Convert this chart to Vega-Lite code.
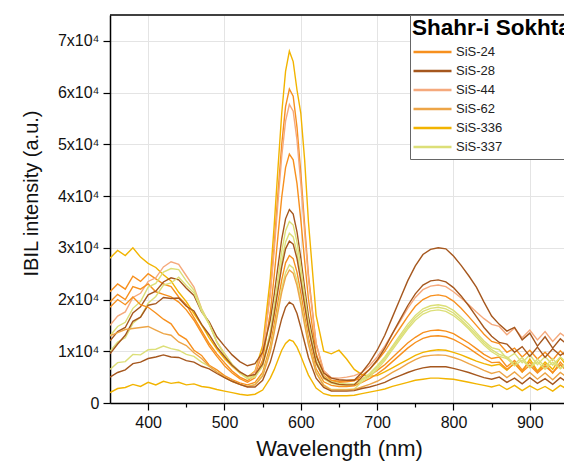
{
"$schema":"https://vega.github.io/schema/vega-lite/v6.json",
"width":454,"height":388,
"autosize":"none",
"padding":{"left":110,"top":15,"right":0,"bottom":65},
"config":{"font":"Liberation Sans","view":{"stroke":null}},
"datasets":{
"curves":[{"c":1,"s":"SiS-336"},{"c":2,"s":"SiS-24"},{"c":3,"s":"SiS-44"},{"c":4,"s":"SiS-24"},{"c":5,"s":"SiS-28"},{"c":6,"s":"SiS-337"},{"c":7,"s":"SiS-337"},{"c":8,"s":"SiS-28"},{"c":9,"s":"SiS-24"},{"c":10,"s":"SiS-337"},{"c":11,"s":"SiS-62"},{"c":12,"s":"SiS-28"},{"c":13,"s":"SiS-336"}],
"spectra":[
{"c":1,"w":350,"v":28000},{"c":1,"w":360,"v":29500},{"c":1,"w":370,"v":28500},{"c":1,"w":380,"v":30000},{"c":1,"w":390,"v":28200},{"c":1,"w":400,"v":27000},{"c":1,"w":410,"v":26200},{"c":1,"w":420,"v":24800},{"c":1,"w":430,"v":23600},{"c":1,"w":440,"v":21400},{"c":1,"w":450,"v":19600},{"c":1,"w":460,"v":17300},{"c":1,"w":470,"v":15100},{"c":1,"w":480,"v":12600},{"c":1,"w":490,"v":10400},{"c":1,"w":500,"v":8600},{"c":1,"w":510,"v":7100},{"c":1,"w":520,"v":5800},{"c":1,"w":530,"v":5000},{"c":1,"w":540,"v":6200},{"c":1,"w":550,"v":11100},{"c":1,"w":560,"v":24100},{"c":1,"w":565,"v":34100},{"c":1,"w":570,"v":45200},{"c":1,"w":575,"v":56000},{"c":1,"w":580,"v":64100},{"c":1,"w":585,"v":68000},{"c":1,"w":590,"v":66000},{"c":1,"w":595,"v":60500},{"c":1,"w":600,"v":56000},{"c":1,"w":605,"v":47000},{"c":1,"w":610,"v":35000},{"c":1,"w":620,"v":17000},{"c":1,"w":630,"v":10000},{"c":1,"w":640,"v":9500},{"c":1,"w":650,"v":10200},{"c":1,"w":660,"v":8500},{"c":1,"w":670,"v":6500},{"c":1,"w":680,"v":5500},{"c":1,"w":690,"v":5200},{"c":1,"w":700,"v":5300},{"c":1,"w":710,"v":6000},{"c":1,"w":720,"v":6800},{"c":1,"w":730,"v":7600},{"c":1,"w":740,"v":8400},{"c":1,"w":750,"v":9200},{"c":1,"w":760,"v":9800},{"c":1,"w":770,"v":10100},{"c":1,"w":780,"v":10300},{"c":1,"w":790,"v":10200},{"c":1,"w":800,"v":9800},{"c":1,"w":810,"v":9300},{"c":1,"w":820,"v":8700},{"c":1,"w":830,"v":8100},{"c":1,"w":840,"v":7600},{"c":1,"w":850,"v":7200},{"c":1,"w":860,"v":7500},{"c":1,"w":870,"v":6300},{"c":1,"w":880,"v":7800},{"c":1,"w":890,"v":6000},{"c":1,"w":900,"v":8500},{"c":1,"w":910,"v":6200},{"c":1,"w":920,"v":7900},{"c":1,"w":930,"v":6500},{"c":1,"w":940,"v":8800},{"c":1,"w":950,"v":6800},
{"c":2,"w":350,"v":21500},{"c":2,"w":360,"v":23000},{"c":2,"w":370,"v":22000},{"c":2,"w":380,"v":24500},{"c":2,"w":390,"v":23500},{"c":2,"w":400,"v":25000},{"c":2,"w":410,"v":24000},{"c":2,"w":420,"v":23000},{"c":2,"w":430,"v":22500},{"c":2,"w":440,"v":20500},{"c":2,"w":450,"v":19000},{"c":2,"w":460,"v":16500},{"c":2,"w":470,"v":14000},{"c":2,"w":480,"v":11500},{"c":2,"w":490,"v":9500},{"c":2,"w":500,"v":7800},{"c":2,"w":510,"v":6200},{"c":2,"w":520,"v":5000},{"c":2,"w":530,"v":4300},{"c":2,"w":540,"v":5400},{"c":2,"w":550,"v":9800},{"c":2,"w":560,"v":21500},{"c":2,"w":565,"v":30400},{"c":2,"w":570,"v":40400},{"c":2,"w":575,"v":50000},{"c":2,"w":580,"v":57300},{"c":2,"w":585,"v":60700},{"c":2,"w":590,"v":59300},{"c":2,"w":595,"v":53300},{"c":2,"w":600,"v":44400},{"c":2,"w":605,"v":34400},{"c":2,"w":610,"v":24800},{"c":2,"w":620,"v":11500},{"c":2,"w":630,"v":5900},{"c":2,"w":640,"v":4400},{"c":2,"w":650,"v":4200},{"c":2,"w":660,"v":4300},{"c":2,"w":670,"v":4500},{"c":2,"w":680,"v":4600},{"c":2,"w":690,"v":5300},{"c":2,"w":700,"v":6300},{"c":2,"w":710,"v":7400},{"c":2,"w":720,"v":8800},{"c":2,"w":730,"v":10200},{"c":2,"w":740,"v":11600},{"c":2,"w":750,"v":12700},{"c":2,"w":760,"v":13600},{"c":2,"w":770,"v":14000},{"c":2,"w":780,"v":14100},{"c":2,"w":790,"v":13900},{"c":2,"w":800,"v":13400},{"c":2,"w":810,"v":12500},{"c":2,"w":820,"v":11600},{"c":2,"w":830,"v":10500},{"c":2,"w":840,"v":9400},{"c":2,"w":850,"v":8600},{"c":2,"w":860,"v":8900},{"c":2,"w":870,"v":7000},{"c":2,"w":880,"v":8200},{"c":2,"w":890,"v":6400},{"c":2,"w":900,"v":7900},{"c":2,"w":910,"v":6000},{"c":2,"w":920,"v":7500},{"c":2,"w":930,"v":5800},{"c":2,"w":940,"v":7900},{"c":2,"w":950,"v":6200},
{"c":3,"w":350,"v":15000},{"c":3,"w":360,"v":16800},{"c":3,"w":370,"v":17600},{"c":3,"w":380,"v":20400},{"c":3,"w":390,"v":21200},{"c":3,"w":400,"v":23500},{"c":3,"w":410,"v":24200},{"c":3,"w":420,"v":26300},{"c":3,"w":430,"v":27300},{"c":3,"w":440,"v":26800},{"c":3,"w":450,"v":24600},{"c":3,"w":460,"v":22400},{"c":3,"w":470,"v":18200},{"c":3,"w":480,"v":15300},{"c":3,"w":490,"v":11800},{"c":3,"w":500,"v":9600},{"c":3,"w":510,"v":7400},{"c":3,"w":520,"v":6100},{"c":3,"w":530,"v":5000},{"c":3,"w":540,"v":6000},{"c":3,"w":550,"v":10100},{"c":3,"w":560,"v":20900},{"c":3,"w":565,"v":29300},{"c":3,"w":570,"v":38600},{"c":3,"w":575,"v":47700},{"c":3,"w":580,"v":54500},{"c":3,"w":585,"v":57700},{"c":3,"w":590,"v":56400},{"c":3,"w":595,"v":50800},{"c":3,"w":600,"v":42400},{"c":3,"w":605,"v":33000},{"c":3,"w":610,"v":24000},{"c":3,"w":620,"v":11500},{"c":3,"w":630,"v":6300},{"c":3,"w":640,"v":4900},{"c":3,"w":650,"v":4800},{"c":3,"w":660,"v":5000},{"c":3,"w":670,"v":5300},{"c":3,"w":680,"v":5900},{"c":3,"w":690,"v":7200},{"c":3,"w":700,"v":8900},{"c":3,"w":710,"v":11000},{"c":3,"w":720,"v":13400},{"c":3,"w":730,"v":15800},{"c":3,"w":740,"v":18300},{"c":3,"w":750,"v":20400},{"c":3,"w":760,"v":21900},{"c":3,"w":770,"v":22600},{"c":3,"w":780,"v":22800},{"c":3,"w":790,"v":22500},{"c":3,"w":800,"v":21500},{"c":3,"w":810,"v":20300},{"c":3,"w":820,"v":19000},{"c":3,"w":830,"v":17600},{"c":3,"w":840,"v":16300},{"c":3,"w":850,"v":15200},{"c":3,"w":860,"v":14800},{"c":3,"w":870,"v":13200},{"c":3,"w":880,"v":14500},{"c":3,"w":890,"v":12600},{"c":3,"w":900,"v":14100},{"c":3,"w":910,"v":12200},{"c":3,"w":920,"v":13800},{"c":3,"w":930,"v":11900},{"c":3,"w":940,"v":13500},{"c":3,"w":950,"v":12400},
{"c":4,"w":350,"v":19500},{"c":4,"w":360,"v":21000},{"c":4,"w":370,"v":20000},{"c":4,"w":380,"v":22500},{"c":4,"w":390,"v":22000},{"c":4,"w":400,"v":23000},{"c":4,"w":410,"v":21500},{"c":4,"w":420,"v":21000},{"c":4,"w":430,"v":20500},{"c":4,"w":440,"v":19500},{"c":4,"w":450,"v":18000},{"c":4,"w":460,"v":16000},{"c":4,"w":470,"v":13500},{"c":4,"w":480,"v":11000},{"c":4,"w":490,"v":9000},{"c":4,"w":500,"v":7200},{"c":4,"w":510,"v":5800},{"c":4,"w":520,"v":4700},{"c":4,"w":530,"v":4000},{"c":4,"w":540,"v":4900},{"c":4,"w":550,"v":8300},{"c":4,"w":560,"v":17500},{"c":4,"w":565,"v":24400},{"c":4,"w":570,"v":32200},{"c":4,"w":575,"v":39800},{"c":4,"w":580,"v":45500},{"c":4,"w":585,"v":48100},{"c":4,"w":590,"v":47000},{"c":4,"w":595,"v":42400},{"c":4,"w":600,"v":35400},{"c":4,"w":605,"v":27500},{"c":4,"w":610,"v":20100},{"c":4,"w":620,"v":9600},{"c":4,"w":630,"v":5300},{"c":4,"w":640,"v":4200},{"c":4,"w":650,"v":4000},{"c":4,"w":660,"v":4100},{"c":4,"w":670,"v":4300},{"c":4,"w":680,"v":5300},{"c":4,"w":690,"v":6500},{"c":4,"w":700,"v":8100},{"c":4,"w":710,"v":10000},{"c":4,"w":720,"v":12300},{"c":4,"w":730,"v":14500},{"c":4,"w":740,"v":16700},{"c":4,"w":750,"v":18700},{"c":4,"w":760,"v":20000},{"c":4,"w":770,"v":20700},{"c":4,"w":780,"v":20900},{"c":4,"w":790,"v":20600},{"c":4,"w":800,"v":19700},{"c":4,"w":810,"v":18300},{"c":4,"w":820,"v":16700},{"c":4,"w":830,"v":15000},{"c":4,"w":840,"v":13300},{"c":4,"w":850,"v":11900},{"c":4,"w":860,"v":11500},{"c":4,"w":870,"v":9800},{"c":4,"w":880,"v":10600},{"c":4,"w":890,"v":8900},{"c":4,"w":900,"v":10200},{"c":4,"w":910,"v":8500},{"c":4,"w":920,"v":9800},{"c":4,"w":930,"v":8300},{"c":4,"w":940,"v":10100},{"c":4,"w":950,"v":8600},
{"c":5,"w":350,"v":12000},{"c":5,"w":360,"v":13800},{"c":5,"w":370,"v":14600},{"c":5,"w":380,"v":17400},{"c":5,"w":390,"v":18600},{"c":5,"w":400,"v":20900},{"c":5,"w":410,"v":21600},{"c":5,"w":420,"v":23400},{"c":5,"w":430,"v":24200},{"c":5,"w":440,"v":23800},{"c":5,"w":450,"v":22200},{"c":5,"w":460,"v":20800},{"c":5,"w":470,"v":17600},{"c":5,"w":480,"v":15700},{"c":5,"w":490,"v":12800},{"c":5,"w":500,"v":11000},{"c":5,"w":510,"v":9300},{"c":5,"w":520,"v":8000},{"c":5,"w":530,"v":7200},{"c":5,"w":540,"v":7600},{"c":5,"w":550,"v":9800},{"c":5,"w":560,"v":16000},{"c":5,"w":565,"v":20800},{"c":5,"w":570,"v":26300},{"c":5,"w":575,"v":31700},{"c":5,"w":580,"v":35600},{"c":5,"w":585,"v":37400},{"c":5,"w":590,"v":36500},{"c":5,"w":595,"v":33100},{"c":5,"w":600,"v":28000},{"c":5,"w":605,"v":22300},{"c":5,"w":610,"v":16800},{"c":5,"w":620,"v":9100},{"c":5,"w":630,"v":5800},{"c":5,"w":640,"v":4800},{"c":5,"w":650,"v":4500},{"c":5,"w":660,"v":4400},{"c":5,"w":670,"v":4400},{"c":5,"w":680,"v":5900},{"c":5,"w":690,"v":7800},{"c":5,"w":700,"v":10200},{"c":5,"w":710,"v":13100},{"c":5,"w":720,"v":16600},{"c":5,"w":730,"v":20100},{"c":5,"w":740,"v":23600},{"c":5,"w":750,"v":26500},{"c":5,"w":760,"v":28700},{"c":5,"w":770,"v":29700},{"c":5,"w":780,"v":30000},{"c":5,"w":790,"v":29800},{"c":5,"w":800,"v":28400},{"c":5,"w":810,"v":26600},{"c":5,"w":820,"v":24600},{"c":5,"w":830,"v":22400},{"c":5,"w":840,"v":19500},{"c":5,"w":850,"v":16800},{"c":5,"w":860,"v":15200},{"c":5,"w":870,"v":13900},{"c":5,"w":880,"v":14600},{"c":5,"w":890,"v":12200},{"c":5,"w":900,"v":13500},{"c":5,"w":910,"v":11000},{"c":5,"w":920,"v":12800},{"c":5,"w":930,"v":10600},{"c":5,"w":940,"v":12400},{"c":5,"w":950,"v":11200},
{"c":6,"w":350,"v":13000},{"c":6,"w":360,"v":14800},{"c":6,"w":370,"v":15600},{"c":6,"w":380,"v":18300},{"c":6,"w":390,"v":19600},{"c":6,"w":400,"v":22400},{"c":6,"w":410,"v":23100},{"c":6,"w":420,"v":25300},{"c":6,"w":430,"v":26000},{"c":6,"w":440,"v":25800},{"c":6,"w":450,"v":23600},{"c":6,"w":460,"v":21800},{"c":6,"w":470,"v":18200},{"c":6,"w":480,"v":15300},{"c":6,"w":490,"v":11700},{"c":6,"w":500,"v":9500},{"c":6,"w":510,"v":7500},{"c":6,"w":520,"v":6000},{"c":6,"w":530,"v":5000},{"c":6,"w":540,"v":5300},{"c":6,"w":550,"v":7600},{"c":6,"w":560,"v":13800},{"c":6,"w":565,"v":18700},{"c":6,"w":570,"v":24100},{"c":6,"w":575,"v":29300},{"c":6,"w":580,"v":33300},{"c":6,"w":585,"v":35100},{"c":6,"w":590,"v":34400},{"c":6,"w":595,"v":31100},{"c":6,"w":600,"v":26300},{"c":6,"w":605,"v":20800},{"c":6,"w":610,"v":15600},{"c":6,"w":620,"v":8300},{"c":6,"w":630,"v":5100},{"c":6,"w":640,"v":4100},{"c":6,"w":650,"v":3800},{"c":6,"w":660,"v":3700},{"c":6,"w":670,"v":3700},{"c":6,"w":680,"v":4600},{"c":6,"w":690,"v":5700},{"c":6,"w":700,"v":7200},{"c":6,"w":710,"v":8900},{"c":6,"w":720,"v":11000},{"c":6,"w":730,"v":13100},{"c":6,"w":740,"v":15200},{"c":6,"w":750,"v":16900},{"c":6,"w":760,"v":18200},{"c":6,"w":770,"v":18800},{"c":6,"w":780,"v":19000},{"c":6,"w":790,"v":18700},{"c":6,"w":800,"v":17900},{"c":6,"w":810,"v":16600},{"c":6,"w":820,"v":15200},{"c":6,"w":830,"v":13600},{"c":6,"w":840,"v":12000},{"c":6,"w":850,"v":10700},{"c":6,"w":860,"v":10300},{"c":6,"w":870,"v":8600},{"c":6,"w":880,"v":9600},{"c":6,"w":890,"v":7800},{"c":6,"w":900,"v":9300},{"c":6,"w":910,"v":7400},{"c":6,"w":920,"v":9000},{"c":6,"w":930,"v":7300},{"c":6,"w":940,"v":8900},{"c":6,"w":950,"v":7600},
{"c":7,"w":350,"v":10000},{"c":7,"w":360,"v":11800},{"c":7,"w":370,"v":12600},{"c":7,"w":380,"v":15400},{"c":7,"w":390,"v":16600},{"c":7,"w":400,"v":19300},{"c":7,"w":410,"v":20600},{"c":7,"w":420,"v":22800},{"c":7,"w":430,"v":23200},{"c":7,"w":440,"v":24300},{"c":7,"w":450,"v":22700},{"c":7,"w":460,"v":21300},{"c":7,"w":470,"v":17700},{"c":7,"w":480,"v":15200},{"c":7,"w":490,"v":11800},{"c":7,"w":500,"v":9300},{"c":7,"w":510,"v":7300},{"c":7,"w":520,"v":5800},{"c":7,"w":530,"v":4700},{"c":7,"w":540,"v":5000},{"c":7,"w":550,"v":7100},{"c":7,"w":560,"v":12900},{"c":7,"w":565,"v":17400},{"c":7,"w":570,"v":22500},{"c":7,"w":575,"v":27400},{"c":7,"w":580,"v":31100},{"c":7,"w":585,"v":32800},{"c":7,"w":590,"v":32100},{"c":7,"w":595,"v":29100},{"c":7,"w":600,"v":24500},{"c":7,"w":605,"v":19400},{"c":7,"w":610,"v":14600},{"c":7,"w":620,"v":7700},{"c":7,"w":630,"v":4700},{"c":7,"w":640,"v":3800},{"c":7,"w":650,"v":3500},{"c":7,"w":660,"v":3400},{"c":7,"w":670,"v":3400},{"c":7,"w":680,"v":4400},{"c":7,"w":690,"v":5500},{"c":7,"w":700,"v":6900},{"c":7,"w":710,"v":8600},{"c":7,"w":720,"v":10700},{"c":7,"w":730,"v":12700},{"c":7,"w":740,"v":14700},{"c":7,"w":750,"v":16500},{"c":7,"w":760,"v":17700},{"c":7,"w":770,"v":18300},{"c":7,"w":780,"v":18500},{"c":7,"w":790,"v":18200},{"c":7,"w":800,"v":17400},{"c":7,"w":810,"v":16100},{"c":7,"w":820,"v":14700},{"c":7,"w":830,"v":13200},{"c":7,"w":840,"v":11600},{"c":7,"w":850,"v":10300},{"c":7,"w":860,"v":9400},{"c":7,"w":870,"v":8900},{"c":7,"w":880,"v":7600},{"c":7,"w":890,"v":8800},{"c":7,"w":900,"v":6900},{"c":7,"w":910,"v":8500},{"c":7,"w":920,"v":7000},{"c":7,"w":930,"v":8600},{"c":7,"w":940,"v":6800},{"c":7,"w":950,"v":8100},
{"c":8,"w":350,"v":9500},{"c":8,"w":360,"v":11400},{"c":8,"w":370,"v":13100},{"c":8,"w":380,"v":15800},{"c":8,"w":390,"v":16600},{"c":8,"w":400,"v":18900},{"c":8,"w":410,"v":19200},{"c":8,"w":420,"v":20400},{"c":8,"w":430,"v":20200},{"c":8,"w":440,"v":20300},{"c":8,"w":450,"v":18700},{"c":8,"w":460,"v":17800},{"c":8,"w":470,"v":15200},{"c":8,"w":480,"v":13200},{"c":8,"w":490,"v":10800},{"c":8,"w":500,"v":9000},{"c":8,"w":510,"v":7300},{"c":8,"w":520,"v":6000},{"c":8,"w":530,"v":5200},{"c":8,"w":540,"v":5500},{"c":8,"w":550,"v":7500},{"c":8,"w":560,"v":12900},{"c":8,"w":565,"v":17100},{"c":8,"w":570,"v":21700},{"c":8,"w":575,"v":26300},{"c":8,"w":580,"v":29800},{"c":8,"w":585,"v":31300},{"c":8,"w":590,"v":30700},{"c":8,"w":595,"v":27900},{"c":8,"w":600,"v":23600},{"c":8,"w":605,"v":18900},{"c":8,"w":610,"v":14400},{"c":8,"w":620,"v":7800},{"c":8,"w":630,"v":4900},{"c":8,"w":640,"v":4000},{"c":8,"w":650,"v":3600},{"c":8,"w":660,"v":3500},{"c":8,"w":670,"v":3500},{"c":8,"w":680,"v":5000},{"c":8,"w":690,"v":6500},{"c":8,"w":700,"v":8300},{"c":8,"w":710,"v":10600},{"c":8,"w":720,"v":13400},{"c":8,"w":730,"v":16100},{"c":8,"w":740,"v":18800},{"c":8,"w":750,"v":21100},{"c":8,"w":760,"v":22800},{"c":8,"w":770,"v":23600},{"c":8,"w":780,"v":23800},{"c":8,"w":790,"v":23400},{"c":8,"w":800,"v":22300},{"c":8,"w":810,"v":20700},{"c":8,"w":820,"v":18800},{"c":8,"w":830,"v":16700},{"c":8,"w":840,"v":14600},{"c":8,"w":850,"v":12900},{"c":8,"w":860,"v":11700},{"c":8,"w":870,"v":11400},{"c":8,"w":880,"v":9800},{"c":8,"w":890,"v":10900},{"c":8,"w":900,"v":9000},{"c":8,"w":910,"v":10800},{"c":8,"w":920,"v":8800},{"c":8,"w":930,"v":10500},{"c":8,"w":940,"v":9200},{"c":8,"w":950,"v":10200},
{"c":9,"w":350,"v":18500},{"c":9,"w":360,"v":20000},{"c":9,"w":370,"v":19000},{"c":9,"w":380,"v":20500},{"c":9,"w":390,"v":19000},{"c":9,"w":400,"v":18500},{"c":9,"w":410,"v":17400},{"c":9,"w":420,"v":16200},{"c":9,"w":430,"v":15300},{"c":9,"w":440,"v":13200},{"c":9,"w":450,"v":12300},{"c":9,"w":460,"v":10200},{"c":9,"w":470,"v":9200},{"c":9,"w":480,"v":7300},{"c":9,"w":490,"v":6400},{"c":9,"w":500,"v":5300},{"c":9,"w":510,"v":4500},{"c":9,"w":520,"v":3900},{"c":9,"w":530,"v":3500},{"c":9,"w":540,"v":4000},{"c":9,"w":550,"v":5900},{"c":9,"w":560,"v":11100},{"c":9,"w":565,"v":15100},{"c":9,"w":570,"v":19500},{"c":9,"w":575,"v":23800},{"c":9,"w":580,"v":27100},{"c":9,"w":585,"v":28500},{"c":9,"w":590,"v":27900},{"c":9,"w":595,"v":25300},{"c":9,"w":600,"v":21300},{"c":9,"w":605,"v":16800},{"c":9,"w":610,"v":12600},{"c":9,"w":620,"v":6600},{"c":9,"w":630,"v":4100},{"c":9,"w":640,"v":3400},{"c":9,"w":650,"v":3200},{"c":9,"w":660,"v":3200},{"c":9,"w":670,"v":3300},{"c":9,"w":680,"v":4000},{"c":9,"w":690,"v":4700},{"c":9,"w":700,"v":5600},{"c":9,"w":710,"v":6700},{"c":9,"w":720,"v":8000},{"c":9,"w":730,"v":9300},{"c":9,"w":740,"v":10600},{"c":9,"w":750,"v":11700},{"c":9,"w":760,"v":12500},{"c":9,"w":770,"v":12900},{"c":9,"w":780,"v":13000},{"c":9,"w":790,"v":12800},{"c":9,"w":800,"v":12300},{"c":9,"w":810,"v":11500},{"c":9,"w":820,"v":10600},{"c":9,"w":830,"v":9600},{"c":9,"w":840,"v":8600},{"c":9,"w":850,"v":7800},{"c":9,"w":860,"v":7900},{"c":9,"w":870,"v":6500},{"c":9,"w":880,"v":7600},{"c":9,"w":890,"v":6000},{"c":9,"w":900,"v":7300},{"c":9,"w":910,"v":5800},{"c":9,"w":920,"v":7100},{"c":9,"w":930,"v":5900},{"c":9,"w":940,"v":7400},{"c":9,"w":950,"v":6000},
{"c":10,"w":350,"v":6500},{"c":10,"w":360,"v":7800},{"c":10,"w":370,"v":8000},{"c":10,"w":380,"v":9400},{"c":10,"w":390,"v":9300},{"c":10,"w":400,"v":10300},{"c":10,"w":410,"v":10400},{"c":10,"w":420,"v":11000},{"c":10,"w":430,"v":10500},{"c":10,"w":440,"v":10200},{"c":10,"w":450,"v":9400},{"c":10,"w":460,"v":9000},{"c":10,"w":470,"v":7900},{"c":10,"w":480,"v":7100},{"c":10,"w":490,"v":6000},{"c":10,"w":500,"v":5000},{"c":10,"w":510,"v":4200},{"c":10,"w":520,"v":3600},{"c":10,"w":530,"v":3200},{"c":10,"w":540,"v":3600},{"c":10,"w":550,"v":5400},{"c":10,"w":560,"v":10300},{"c":10,"w":565,"v":14000},{"c":10,"w":570,"v":18200},{"c":10,"w":575,"v":22200},{"c":10,"w":580,"v":25200},{"c":10,"w":585,"v":26700},{"c":10,"w":590,"v":26100},{"c":10,"w":595,"v":23600},{"c":10,"w":600,"v":19800},{"c":10,"w":605,"v":15700},{"c":10,"w":610,"v":11700},{"c":10,"w":620,"v":6000},{"c":10,"w":630,"v":3500},{"c":10,"w":640,"v":2600},{"c":10,"w":650,"v":2600},{"c":10,"w":660,"v":2600},{"c":10,"w":670,"v":2700},{"c":10,"w":680,"v":4100},{"c":10,"w":690,"v":5100},{"c":10,"w":700,"v":6500},{"c":10,"w":710,"v":8200},{"c":10,"w":720,"v":10300},{"c":10,"w":730,"v":12300},{"c":10,"w":740,"v":14300},{"c":10,"w":750,"v":16000},{"c":10,"w":760,"v":17200},{"c":10,"w":770,"v":17800},{"c":10,"w":780,"v":18000},{"c":10,"w":790,"v":17700},{"c":10,"w":800,"v":16900},{"c":10,"w":810,"v":15700},{"c":10,"w":820,"v":14300},{"c":10,"w":830,"v":12700},{"c":10,"w":840,"v":11200},{"c":10,"w":850,"v":9900},{"c":10,"w":860,"v":9000},{"c":10,"w":870,"v":8600},{"c":10,"w":880,"v":7200},{"c":10,"w":890,"v":8300},{"c":10,"w":900,"v":6800},{"c":10,"w":910,"v":8000},{"c":10,"w":920,"v":6500},{"c":10,"w":930,"v":7900},{"c":10,"w":940,"v":6600},{"c":10,"w":950,"v":7700},
{"c":11,"w":350,"v":13000},{"c":11,"w":360,"v":13600},{"c":11,"w":370,"v":14200},{"c":11,"w":380,"v":14400},{"c":11,"w":390,"v":14600},{"c":11,"w":400,"v":14800},{"c":11,"w":410,"v":14100},{"c":11,"w":420,"v":13400},{"c":11,"w":430,"v":13100},{"c":11,"w":440,"v":11800},{"c":11,"w":450,"v":11100},{"c":11,"w":460,"v":9700},{"c":11,"w":470,"v":8600},{"c":11,"w":480,"v":7100},{"c":11,"w":490,"v":6000},{"c":11,"w":500,"v":5000},{"c":11,"w":510,"v":4200},{"c":11,"w":520,"v":3600},{"c":11,"w":530,"v":3200},{"c":11,"w":540,"v":3500},{"c":11,"w":550,"v":5200},{"c":11,"w":560,"v":9900},{"c":11,"w":565,"v":13500},{"c":11,"w":570,"v":17500},{"c":11,"w":575,"v":21400},{"c":11,"w":580,"v":24300},{"c":11,"w":585,"v":25700},{"c":11,"w":590,"v":25100},{"c":11,"w":595,"v":22700},{"c":11,"w":600,"v":19100},{"c":11,"w":605,"v":15100},{"c":11,"w":610,"v":11300},{"c":11,"w":620,"v":5800},{"c":11,"w":630,"v":3400},{"c":11,"w":640,"v":2500},{"c":11,"w":650,"v":2500},{"c":11,"w":660,"v":2500},{"c":11,"w":670,"v":2600},{"c":11,"w":680,"v":3100},{"c":11,"w":690,"v":3600},{"c":11,"w":700,"v":4200},{"c":11,"w":710,"v":5000},{"c":11,"w":720,"v":5900},{"c":11,"w":730,"v":6700},{"c":11,"w":740,"v":7600},{"c":11,"w":750,"v":8400},{"c":11,"w":760,"v":9000},{"c":11,"w":770,"v":9200},{"c":11,"w":780,"v":9300},{"c":11,"w":790,"v":9200},{"c":11,"w":800,"v":8800},{"c":11,"w":810,"v":8300},{"c":11,"w":820,"v":7600},{"c":11,"w":830,"v":7000},{"c":11,"w":840,"v":6300},{"c":11,"w":850,"v":5700},{"c":11,"w":860,"v":6100},{"c":11,"w":870,"v":4900},{"c":11,"w":880,"v":6000},{"c":11,"w":890,"v":4700},{"c":11,"w":900,"v":5900},{"c":11,"w":910,"v":4600},{"c":11,"w":920,"v":5800},{"c":11,"w":930,"v":4500},{"c":11,"w":940,"v":5900},{"c":11,"w":950,"v":4800},
{"c":12,"w":350,"v":5000},{"c":12,"w":360,"v":5900},{"c":12,"w":370,"v":6400},{"c":12,"w":380,"v":7600},{"c":12,"w":390,"v":7900},{"c":12,"w":400,"v":8600},{"c":12,"w":410,"v":8900},{"c":12,"w":420,"v":9300},{"c":12,"w":430,"v":8900},{"c":12,"w":440,"v":8800},{"c":12,"w":450,"v":8200},{"c":12,"w":460,"v":7900},{"c":12,"w":470,"v":7100},{"c":12,"w":480,"v":6600},{"c":12,"w":490,"v":5700},{"c":12,"w":500,"v":4900},{"c":12,"w":510,"v":4200},{"c":12,"w":520,"v":3600},{"c":12,"w":530,"v":3100},{"c":12,"w":540,"v":3100},{"c":12,"w":550,"v":4400},{"c":12,"w":560,"v":7900},{"c":12,"w":565,"v":10500},{"c":12,"w":570,"v":13400},{"c":12,"w":575,"v":16300},{"c":12,"w":580,"v":18500},{"c":12,"w":585,"v":19500},{"c":12,"w":590,"v":19000},{"c":12,"w":595,"v":17300},{"c":12,"w":600,"v":14600},{"c":12,"w":605,"v":11700},{"c":12,"w":610,"v":8800},{"c":12,"w":620,"v":4800},{"c":12,"w":630,"v":3000},{"c":12,"w":640,"v":2300},{"c":12,"w":650,"v":2300},{"c":12,"w":660,"v":2300},{"c":12,"w":670,"v":2400},{"c":12,"w":680,"v":2800},{"c":12,"w":690,"v":3100},{"c":12,"w":700,"v":3500},{"c":12,"w":710,"v":4000},{"c":12,"w":720,"v":4700},{"c":12,"w":730,"v":5300},{"c":12,"w":740,"v":5900},{"c":12,"w":750,"v":6400},{"c":12,"w":760,"v":6800},{"c":12,"w":770,"v":7000},{"c":12,"w":780,"v":7000},{"c":12,"w":790,"v":7000},{"c":12,"w":800,"v":6700},{"c":12,"w":810,"v":6300},{"c":12,"w":820,"v":5900},{"c":12,"w":830,"v":5400},{"c":12,"w":840,"v":4900},{"c":12,"w":850,"v":4600},{"c":12,"w":860,"v":5000},{"c":12,"w":870,"v":4000},{"c":12,"w":880,"v":4800},{"c":12,"w":890,"v":3700},{"c":12,"w":900,"v":4900},{"c":12,"w":910,"v":3800},{"c":12,"w":920,"v":4700},{"c":12,"w":930,"v":3600},{"c":12,"w":940,"v":4900},{"c":12,"w":950,"v":3900},
{"c":13,"w":350,"v":2000},{"c":13,"w":360,"v":2800},{"c":13,"w":370,"v":3000},{"c":13,"w":380,"v":3600},{"c":13,"w":390,"v":3200},{"c":13,"w":400,"v":4000},{"c":13,"w":410,"v":3500},{"c":13,"w":420,"v":4200},{"c":13,"w":430,"v":3800},{"c":13,"w":440,"v":4000},{"c":13,"w":450,"v":3500},{"c":13,"w":460,"v":3700},{"c":13,"w":470,"v":3200},{"c":13,"w":480,"v":3000},{"c":13,"w":490,"v":2600},{"c":13,"w":500,"v":2300},{"c":13,"w":510,"v":2000},{"c":13,"w":520,"v":1700},{"c":13,"w":530,"v":1500},{"c":13,"w":540,"v":1700},{"c":13,"w":550,"v":2500},{"c":13,"w":560,"v":4800},{"c":13,"w":565,"v":6400},{"c":13,"w":570,"v":8300},{"c":13,"w":575,"v":10200},{"c":13,"w":580,"v":11500},{"c":13,"w":585,"v":12200},{"c":13,"w":590,"v":11900},{"c":13,"w":595,"v":10800},{"c":13,"w":600,"v":9100},{"c":13,"w":605,"v":7200},{"c":13,"w":610,"v":5400},{"c":13,"w":620,"v":2900},{"c":13,"w":630,"v":1800},{"c":13,"w":640,"v":1400},{"c":13,"w":650,"v":1400},{"c":13,"w":660,"v":1400},{"c":13,"w":670,"v":1500},{"c":13,"w":680,"v":1800},{"c":13,"w":690,"v":2100},{"c":13,"w":700,"v":2400},{"c":13,"w":710,"v":2700},{"c":13,"w":720,"v":3200},{"c":13,"w":730,"v":3600},{"c":13,"w":740,"v":4000},{"c":13,"w":750,"v":4400},{"c":13,"w":760,"v":4600},{"c":13,"w":770,"v":4800},{"c":13,"w":780,"v":4800},{"c":13,"w":790,"v":4700},{"c":13,"w":800,"v":4600},{"c":13,"w":810,"v":4300},{"c":13,"w":820,"v":4000},{"c":13,"w":830,"v":3700},{"c":13,"w":840,"v":3400},{"c":13,"w":850,"v":3100},{"c":13,"w":860,"v":3500},{"c":13,"w":870,"v":2600},{"c":13,"w":880,"v":3400},{"c":13,"w":890,"v":2400},{"c":13,"w":900,"v":3300},{"c":13,"w":910,"v":2500},{"c":13,"w":920,"v":3200},{"c":13,"w":930,"v":2300},{"c":13,"w":940,"v":3400},{"c":13,"w":950,"v":2600}
]},
"layer":[
{"data":{"name":"spectra"},
"transform":[{"lookup":"c","from":{"data":{"name":"curves"},"key":"c","fields":["s"]}}],
"mark":{"type":"line","strokeWidth":1.4,"clip":true},
"encoding":{
"x":{"field":"w","type":"quantitative","scale":{"domain":[350,944.8],"nice":false},
 "axis":{"title":"Wavelength (nm)","titleFontSize":22,"titleFontWeight":"normal","titleColor":"#111","titleX":229,"titlePadding":8,
 "values":[400,450,500,550,600,650,700,750,800,850,900],
 "labelExpr":"datum.value % 100 === 0 ? datum.label : ''","labelOverlap":false,"labelFontSize":16,"labelColor":"#111","labelPadding":4,
 "domainColor":"black","domainWidth":1.5,"tickColor":"black","tickWidth":1.2,
 "tickSize":{"condition":{"test":"datum.value % 100 === 0","value":7},"value":4},
 "gridColor":"#e4e4e4","gridOpacity":{"condition":{"test":"datum.value % 100 === 0","value":1},"value":0}}},
"y":{"field":"v","type":"quantitative","scale":{"domain":[0,75000],"nice":false},
 "axis":{"title":"IBIL intensity (a.u.)","titleFontSize":20,"titleFontWeight":"normal","titleColor":"#111","titlePadding":16,"titleY":178,
 "values":[0,5000,10000,15000,20000,25000,30000,35000,40000,45000,50000,55000,60000,65000,70000],
 "labelExpr":"datum.value === 0 ? '0' : (datum.value % 10000 === 0 ? (datum.value/10000) + 'x10⁴' : '')","labelOverlap":false,"labelFontSize":16,"labelColor":"#111","labelPadding":4,
 "domainColor":"black","domainWidth":1.5,"tickColor":"black","tickWidth":1.2,
 "tickSize":{"condition":{"test":"datum.value % 10000 === 0","value":7},"value":4},
 "gridColor":"#e4e4e4","gridOpacity":{"condition":{"test":"datum.value % 10000 === 0 && datum.value > 0","value":1},"value":0}}},
"color":{"field":"s","type":"nominal",
 "scale":{"domain":["SiS-24","SiS-28","SiS-44","SiS-62","SiS-336","SiS-337"],"range":["#F7901E","#A5571E","#F5A97C","#EDA547","#F2B400","#DCDF78"]},
 "legend":{"orient":"none","legendX":300,"legendY":0,"title":"Shahr-i Sokhta","titleFontSize":22.5,"titleFontWeight":"bold","titleColor":"black","titlePadding":3,
  "labelFontSize":13,"labelColor":"#222","labelOffset":3,"symbolType":"stroke","symbolSize":1444,"symbolStrokeWidth":2.5,"clipHeight":19,"rowPadding":0,
  "strokeColor":"#666","fillColor":"white","padding":2}},
"detail":{"field":"c"}}},
{"data":{"values":[{}]},"mark":{"type":"rule","color":"black","strokeWidth":1.5},"encoding":{"y":{"datum":75000}}}
]
}
